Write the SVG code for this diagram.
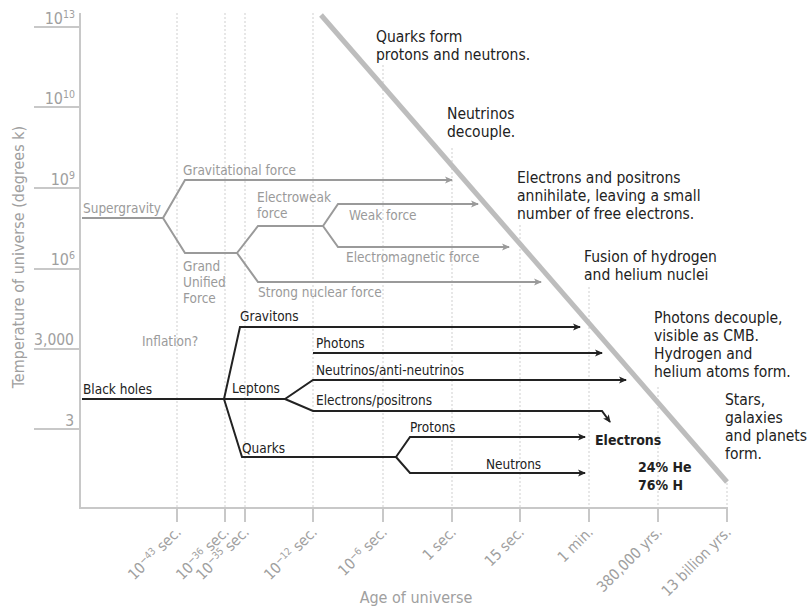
<svg xmlns="http://www.w3.org/2000/svg" width="809" height="607" viewBox="0 0 809 607">
<style>
text{font-family:"DejaVu Sans Condensed","DejaVu Sans",sans-serif;}
.ax{stroke:#c8c8c8;stroke-width:2;fill:none}
.grid{stroke:#cfcfcf;stroke-width:1;stroke-dasharray:2,2;fill:none}
.axt{fill:#a0a0a0;font-size:15px}
.tick{fill:#a0a0a0;font-size:15px}
.gl{stroke:#9a9a9a;stroke-width:2;fill:none}
.bl{stroke:#222;stroke-width:2;fill:none}
.gt{fill:#9a9a9a;font-size:13.5px}
.bt{fill:#222;font-size:13.5px}
.rt{fill:#222;font-size:15.5px}
.bold{fill:#222;font-size:14px;font-weight:bold}
</style>
<defs>
<marker id="ag" viewBox="0 0 8 8" refX="7" refY="4" markerWidth="8" markerHeight="8" markerUnits="userSpaceOnUse" orient="auto"><path d="M0,0.5 L8,4 L0,7.5 L2,4 z" fill="#9a9a9a"/></marker>
<marker id="ab" viewBox="0 0 8 8" refX="7" refY="4" markerWidth="8" markerHeight="8" markerUnits="userSpaceOnUse" orient="auto"><path d="M0,0.5 L8,4 L0,7.5 L2,4 z" fill="#222"/></marker>
</defs>
<g id="axes">
<path class="grid" d="M177,13V507 M225,13V507 M245,13V507 M313,13V507 M383,65V507 M452,148V507 M520,225V507 M589,287V507 M658,387V507 M727,483V507"/>
<path class="ax" d="M80,13V508H728"/>
<path class="ax" d="M34,27H80 M34,107H80 M34,188H80 M34,269H80 M34,349H80 M34,429H80"/>
<path class="ax" d="M177,508V522 M225,508V522 M245,508V522 M313,508V522 M383,508V522 M452,508V522 M520,508V522 M589,508V522 M658,508V522 M727,508V522"/>
<g class="axt" text-anchor="end">
<text x="75" y="24" style="font-size:16px">10<tspan font-size="10.5" dy="-6">13</tspan></text>
<text x="75" y="104" style="font-size:16px">10<tspan font-size="10.5" dy="-6">10</tspan></text>
<text x="75" y="185" style="font-size:16px">10<tspan font-size="10.5" dy="-6">9</tspan></text>
<text x="75" y="265" style="font-size:16px">10<tspan font-size="10.5" dy="-6">6</tspan></text>
<text x="74" y="345" style="font-size:15.5px">3,000</text>
<text x="74" y="426" style="font-size:15.5px">3</text>
</g>
<text class="axt" transform="translate(24,257) rotate(-90)" text-anchor="middle" style="font-size:16px">Temperature of universe (degrees k)</text>
<text class="axt" x="416" y="603" text-anchor="middle" style="font-size:16px">Age of universe</text>
<g class="tick" text-anchor="end">
<text transform="translate(182,533) rotate(-45)">10<tspan font-size="10" dy="-5">−43</tspan><tspan dy="5"> sec.</tspan></text>
<text transform="translate(230,533) rotate(-45)">10<tspan font-size="10" dy="-5">−36</tspan><tspan dy="5"> sec.</tspan></text>
<text transform="translate(250,533) rotate(-45)">10<tspan font-size="10" dy="-5">−35</tspan><tspan dy="5"> sec.</tspan></text>
<text transform="translate(318,533) rotate(-45)">10<tspan font-size="10" dy="-5">−12</tspan><tspan dy="5"> sec.</tspan></text>
<text transform="translate(388,533) rotate(-45)">10<tspan font-size="10" dy="-5">−6</tspan><tspan dy="5"> sec.</tspan></text>
<text transform="translate(457,533) rotate(-45)">1 sec.</text>
<text transform="translate(525,533) rotate(-45)">15 sec.</text>
<text transform="translate(594,533) rotate(-45)">1 min.</text>
<text transform="translate(663,533) rotate(-45)">380,000 yrs.</text>
<text transform="translate(732,533) rotate(-45)">13 billion yrs.</text>
</g>
</g>
<g id="diagonal"><path d="M321,15L727,482" stroke="#bdbdbd" stroke-width="5" fill="none"/></g>
<g id="connectors">
<path class="gl" d="M82,218H163"/>
<path class="gl" d="M163,218L185,180H452" marker-end="url(#ag)"/>
<path class="gl" d="M163,218L185,253H237"/>
<path class="gl" d="M237,253L258,226H323"/>
<path class="gl" d="M323,226L338,204H478" marker-end="url(#ag)"/>
<path class="gl" d="M323,226L338,247H509" marker-end="url(#ag)"/>
<path class="gl" d="M237,253L258,282H541" marker-end="url(#ag)"/>
<path class="bl" d="M82,399H224"/>
<path class="bl" d="M224,399L240,327H580" marker-end="url(#ab)"/>
<path class="bl" d="M224,399H285"/>
<path class="bl" d="M285,399L313,380H626" marker-end="url(#ab)"/>
<path class="bl" d="M285,399L313,411H602L610,422" marker-end="url(#ab)"/>
<path class="bl" d="M313,353H602" marker-end="url(#ab)"/>
<path class="bl" d="M224,399L242,457H396"/>
<path class="bl" d="M396,457L410,437H585" marker-end="url(#ab)"/>
<path class="bl" d="M396,457L410,473H585" marker-end="url(#ab)"/>
</g>
<g id="supergravity"><text class="gt" x="83" y="213">Supergravity</text></g>
<g id="gravitational"><text class="gt" x="183" y="175">Gravitational force</text></g>
<g id="gut"><text class="gt" x="183" y="271">Grand</text><text class="gt" x="183" y="287">Unified</text><text class="gt" x="183" y="303">Force</text></g>
<g id="electroweak"><text class="gt" x="257" y="202">Electroweak</text><text class="gt" x="257" y="218">force</text></g>
<g id="weak"><text class="gt" x="349" y="220">Weak force</text></g>
<g id="em"><text class="gt" x="346" y="262">Electromagnetic force</text></g>
<g id="strong"><text class="gt" x="258" y="297">Strong nuclear force</text></g>
<g id="inflation"><text class="gt" x="142" y="346">Inflation?</text></g>
<g id="blackholes"><text class="bt" x="83" y="394">Black holes</text></g>
<g id="gravitons"><text class="bt" x="240" y="321">Gravitons</text></g>
<g id="leptons"><text class="bt" x="232" y="393">Leptons</text></g>
<g id="photons"><text class="bt" x="316" y="348">Photons</text></g>
<g id="neutrinos"><text class="bt" x="316" y="375">Neutrinos/anti-neutrinos</text></g>
<g id="electronspositrons"><text class="bt" x="316" y="405">Electrons/positrons</text></g>
<g id="quarks"><text class="bt" x="242" y="453">Quarks</text></g>
<g id="protons"><text class="bt" x="410" y="432">Protons</text></g>
<g id="neutrons"><text class="bt" x="486" y="469">Neutrons</text></g>
<g id="electrons"><text class="bold" x="595" y="445">Electrons</text></g>
<g id="abundance"><text class="bold" x="638" y="472">24% He</text><text class="bold" x="638" y="490">76% H</text></g>
<g id="note-quarks"><text class="rt" x="376" y="42">Quarks form</text><text class="rt" x="376" y="60">protons and neutrons.</text></g>
<g id="note-neutrinos"><text class="rt" x="447" y="119">Neutrinos</text><text class="rt" x="447" y="137">decouple.</text></g>
<g id="note-annihilate"><text class="rt" x="517" y="183">Electrons and positrons</text><text class="rt" x="517" y="201">annihilate, leaving a small</text><text class="rt" x="517" y="219">number of free electrons.</text></g>
<g id="note-fusion"><text class="rt" x="584" y="262">Fusion of hydrogen</text><text class="rt" x="584" y="280">and helium nuclei</text></g>
<g id="note-cmb"><text class="rt" x="654" y="323">Photons decouple,</text><text class="rt" x="654" y="341">visible as CMB.</text><text class="rt" x="654" y="359">Hydrogen and</text><text class="rt" x="654" y="377">helium atoms form.</text></g>
<g id="note-stars"><text class="rt" x="725" y="405">Stars,</text><text class="rt" x="725" y="423">galaxies</text><text class="rt" x="725" y="441">and planets</text><text class="rt" x="725" y="459">form.</text></g>
</svg>
